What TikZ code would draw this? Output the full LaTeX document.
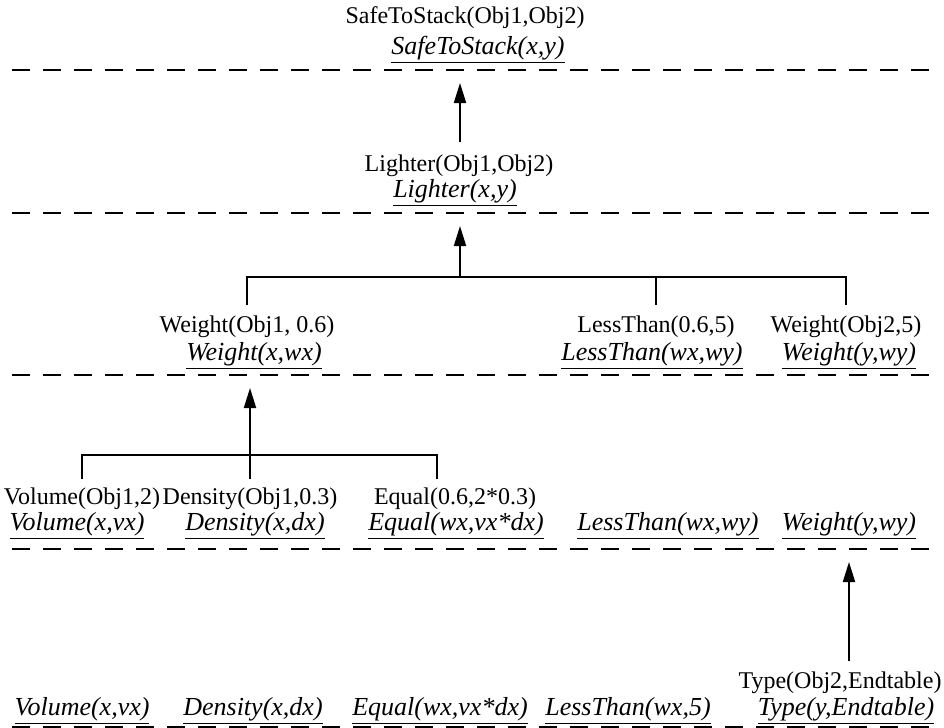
\documentclass[tikz,border=0pt]{standalone}
\usepackage{fontspec}
\setmainfont{Liberation Serif}
\usetikzlibrary{positioning, arrows.meta}

\newcommand{\schem}[1]{\underline{\textit{#1}\vphantom{(}}}

\begin{document}
\begin{tikzpicture}[x=0.5pt, y=-0.5pt, on grid, line width=1pt]
      \tikzstyle{fact}=[inner sep=1pt, font=\fontsize{12}{14}\selectfont]
      \tikzstyle{schema}=[inner sep=1pt, font=\fontsize{13}{15}\selectfont]
      \tikzstyle{dashrule}=[line width=1.4pt, dash pattern=on 9pt off 6.5pt]
      \tikzstyle{up}=[-{Triangle[length=10pt, width=6pt]}, shorten >=6.5pt]

      \useasboundingbox (0,0) rectangle (944,728);

      % Rules
      \coordinate (d1) at (12,70);
      \coordinate (d2) at (12,213);
      \coordinate (d3) at (12,375);
      \coordinate (d4) at (12,549);
      \coordinate (d5) at (12,727);
      \foreach \d in {d1,d2,d3,d4,d5}
        \draw[dashrule] (\d) -- ++(918,0);

      % Nodes
      \node[fact] (safe) at (465,18) {SafeToStack(Obj1,Obj2)};
      \node[schema] (safex) [below=16pt of safe, xshift=6.5pt] {\schem{SafeToStack(x,y)}};
      \node[fact] (lighter) at (459,166) {Lighter(Obj1,Obj2)};
      \node[schema] (lighterx) [below=13.5pt of lighter, xshift=-2pt] {\schem{Lighter(x,y)}};

      \node[fact] (weight1) at (247,327) {Weight(Obj1, 0.6)};
      \node[schema] (weight1x) [below=14.5pt of weight1, xshift=3.5pt] {\schem{Weight(x,wx)}};
      \node[fact] (less1) at (656,327) {LessThan(0.6,5)};
      \node[schema] (less1x) [below=14.5pt of less1, xshift=-2pt] {\schem{LessThan(wx,wy)}};
      \node[fact] (weight2) at (846,327) {Weight(Obj2,5)};
      \node[schema] (weight2x) [below=14.5pt of weight2, xshift=1.5pt] {\schem{Weight(y,wy)}};

      \node[fact] (vol) at (82,499) {Volume(Obj1,2)};
      \node[fact] (dens) at (250,499) {Density(Obj1,0.3)};
      \node[fact] (eq) at (455,499) {Equal(0.6,2*0.3)};
      \node[schema] (volx) at (77,526) {\schem{Volume(x,vx)}};
      \node[schema] (densx) at (255,526) {\schem{Density(x,dx)}};
      \node[schema] (eqx) at (456,526) {\schem{Equal(wx,vx*dx)}};
      \node[schema] (lessx) at (668,526) {\schem{LessThan(wx,wy)}};
      \node[schema] (weightx) at (849,526) {\schem{Weight(y,wy)}};

      \node[fact] (type) at (840,683) {Type(Obj2,Endtable)};
      \node[schema] (volb) at (82,711) {\schem{Volume(x,vx)}};
      \node[schema] (densb) at (253,711) {\schem{Density(x,dx)}};
      \node[schema] (eqb) at (440,711) {\schem{Equal(wx,vx*dx)}};
      \node[schema] (lessb) at (628,711) {\schem{LessThan(wx,5)}};
      \node[schema] (typeb) at (846,711) {\schem{Type(y,Endtable)}};

      % Junctions
      \coordinate (j1) at (460,277);
      \coordinate (j2) at (250,455);

      % Edges
      \draw[up, shorten <=5pt] (lighter.north -| j1) -- (j1 |- d1);
      \draw[up] (j1) -- (j1 |- d2);
      \draw[shorten <=4pt, shorten >=4pt] (weight1.north) -- (weight1 |- j1) -| (weight2.north);
      \draw[shorten <=4pt] (less1.north) -- (less1 |- j1);
      \draw[up, shorten <=3pt] (dens.north -| j2) -- (j2 |- d3);
      \draw[shorten <=3pt, shorten >=3pt] (vol.north) -- (vol |- j2) -| ([xshift=-9pt]eq.north);
      \draw[up, shorten <=4pt] (type.north -| weightx) -- (weightx |- d4);
\end{tikzpicture}
\end{document}
